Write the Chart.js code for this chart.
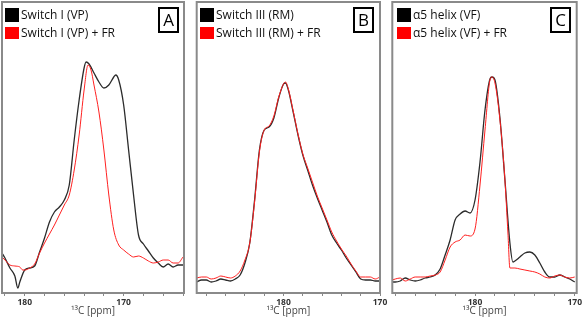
<!DOCTYPE html>
<html>
<head>
<meta charset="utf-8">
<script src="https://cdn.jsdelivr.net/npm/chart.js@4.4.1/dist/chart.umd.min.js"></script>
<style>
  html, body { margin: 0; padding: 0; background: #fff; }
  #wrap { position: relative; width: 582px; height: 317px; overflow: hidden; font-family: 'Open Sans', sans-serif; }
  canvas { position: absolute; top: 0; }
  .legend { position: absolute; top: 6px; font-size: 12px; color: #111; line-height: 18px; }
  .legend div { display: flex; align-items: center; white-space: nowrap; height: 18px; }
  .sw { display: inline-block; width: 14px; margin-right: 2px; }
  .tag { position: absolute; top: 7px; width: 17px; height: 22px; border: 2px solid #000;
         font-size: 17px; line-height: 22px; text-align: center; color: #000; }
</style>
</head>
<body>
<div id="wrap">
  <canvas id="cA" width="192" height="317" style="left:0px"></canvas>
  <canvas id="cB" width="200" height="317" style="left:190px"></canvas>
  <canvas id="cC" width="196" height="317" style="left:386px"></canvas>
</div>
<script>
// series names and panel letters
const legendA = ['Switch I (VP)', 'Switch I (VP) + FR'];
const legendB = ['Switch III (RM)', 'Switch III (RM) + FR'];
const legendC = ['α5 helix (VF)', 'α5 helix (VF) + FR'];
const panelTags = ['A', 'B', 'C'];
const xTitle = '¹³C [ppm]';

// panel A  (ppm, intensity in arbitrary units)
const ppmBlackA = [182.3,182,181.5,181,180.7,180.5,180,179.5,179,178.5,178,177.5,177,176.5,176,175.5,175,174.5,174,173.8,173.5,173,172.5,172,171.5,171,170.8,170.5,170,169.5,169,168.5,168,167.5,167,166.5,166,165.5,165,164.5,164];
const blackA = [40,35,25,17,5,11,23,25,27,41,55,71,81,86,93,108,153,193,225,231,229,220,211,205,208,216,218,213,188,143,98,58,49,42,35,30,26,29,26,28,28];
const ppmRedA = [182.3,182,181.5,181,180.5,180.2,180,179.5,179,178.5,178,177.5,177,176.5,176,175.5,175,174.5,174,173.6,173.3,173,172.5,172,171.5,171,170.5,170,169.5,169,168.5,168,167.5,167,166.5,166,165.5,165,164.5,164];
const redA = [36,33,28,27,26,23,23,25,29,40,50,59,68,78,88,98,123,158,203,228,223,208,181,143,98,63,48,43,39,36,37,35,32,30,31,33,33,30,30,36];

// panel B
const ppmB = [189,188.5,188,187.5,187,186.5,186,185.5,185,184.5,184,183.5,183,182.5,182,181.5,181,180.5,180,179.8,179.5,179,178.5,178,177.5,177,176.5,176,175.5,175,174.5,174,173.5,173,172.5,172,171.5,171,170.5,170];
const blackB = [11,13,13,11,12,14,13,12,14,18,30,50,93,143,163,166,175,195,209,210,203,181,158,138,123,108,95,83,71,58,50,43,35,28,21,14,13,13,12,12];
const redB = [15,16,16,14,15,17,16,15,17,22,33,50,91,141,163,167,177,196,209,211,204,182,159,139,125,111,97,85,73,61,52,44,37,29,22,16,16,16,14,16];

// panel C
const ppmBlackC = [188.3,188,187.5,187,186.5,186,185.5,185,184.5,184,183.5,183,182.5,182,181.5,181,180.5,180,179.5,179,178.5,178.3,178,177.5,177,176.5,176.2,176,175.5,175,174.5,174,173.5,173,172.5,172,171.5,171,170.5,170];
const blackC = [11,11,12,15,13,12,13,15,16,18,24,38,53,73,79,82,80,93,131,183,214,216,213,175,113,50,31,32,36,40,41,38,30,21,16,16,18,16,14,11];
const ppmRedC = [188.3,188,187.5,187,186.5,186,185.5,185,184.5,184,183.5,183,182.5,182,181.5,181,180.5,180,179.5,179,178.5,178.3,178,177.5,177,176.7,176.5,176,175.5,175,174.5,174,173.5,173,172.5,172,171.5,171,170.5,170];
const redC = [13,14,15,12,14,16,16,16,17,18,21,33,46,51,53,58,57,64,108,163,213,216,210,173,113,60,25,25,24,23,22,21,19,16,15,17,18,16,15,16];

const wrap = document.getElementById('wrap');

// grey frame round the plot area
const frame = {
  id: 'frame',
  afterDatasetsDraw(chart) {
    const a = chart.chartArea, c = chart.ctx;
    c.save();
    c.strokeStyle = '#8a8a8a';
    c.lineWidth = 2;
    c.strokeRect(a.left, a.top, a.right - a.left, a.bottom - a.top);
    c.restore();
  }
};

function addLegend(left, labels) {
  const box = document.createElement('div');
  box.className = 'legend';
  box.style.left = left + 'px';
  const colors = ['#000', '#ff0000'];
  const heights = [14, 12];
  labels.forEach((txt, i) => {
    const row = document.createElement('div');
    const sw = document.createElement('span');
    sw.className = 'sw';
    sw.style.background = colors[i];
    sw.style.height = heights[i] + 'px';
    row.appendChild(sw);
    row.appendChild(document.createTextNode(txt));
    box.appendChild(row);
  });
  wrap.appendChild(box);
}

function addTag(left, txt) {
  const t = document.createElement('div');
  t.className = 'tag';
  t.style.left = left + 'px';
  t.textContent = txt;
  wrap.appendChild(t);
}

function buildPanel(id, xMin, xMax, padL, padR, blackX, blackY, redX, redY) {
  const pts = (xs, ys) => xs.map((x, i) => ({ x: x, y: ys[i] }));
  return new Chart(document.getElementById(id), {
    type: 'line',
    data: {
      datasets: [
        { data: pts(blackX, blackY), borderColor: '#2b2b2b', borderWidth: 1.3, order: 1 },
        { data: pts(redX, redY), borderColor: '#ff2020', borderWidth: 1, order: 0 }
      ]
    },
    options: {
      responsive: false,
      animation: false,
      devicePixelRatio: 1,
      layout: { padding: { left: padL, right: padR, top: 2, bottom: 0 } },
      elements: {
        point: { radius: 0 },
        line: { cubicInterpolationMode: 'monotone', fill: false }
      },
      plugins: { legend: { display: false }, tooltip: { enabled: false } },
      scales: {
        x: {
          type: 'linear',
          min: xMin,
          max: xMax,
          reverse: true,
          afterFit: (s) => { s.height = 24; s.paddingLeft = 0; s.paddingRight = 0; },
          border: { display: false },
          grid: { drawOnChartArea: false, drawTicks: true, tickLength: 3, color: '#888' },
          ticks: {
            stepSize: 2,
            includeBounds: false,
            autoSkip: false,
            maxRotation: 0,
            padding: 1,
            color: '#333',
            font: { family: 'Open Sans', size: 8.5, weight: 'bold' },
            callback: (v) => (Math.abs(v % 10) < 1e-6 ? String(v) : '')
          },
          title: {
            display: true,
            text: xTitle,
            color: '#444',
            padding: 0,
            font: { family: 'Open Sans', size: 10 }
          }
        },
        y: { display: false, min: 0, max: 291 }
      }
    },
    plugins: [frame]
  });
}

buildPanel('cA', 163.9, 182.3, 2, 8, ppmBlackA, blackA, ppmRedA, redA);
buildPanel('cB', 170, 189, 6.7, 10, ppmB, blackB, ppmB, redB);
buildPanel('cC', 169.8, 188.3, 6.3, 5.3, ppmBlackC, blackC, ppmRedC, redC);

addLegend(5, legendA);
addLegend(200, legendB);
addLegend(397, legendC);
addTag(158, panelTags[0]);
addTag(353, panelTags[1]);
addTag(550, panelTags[2]);
</script>
</body>
</html>
